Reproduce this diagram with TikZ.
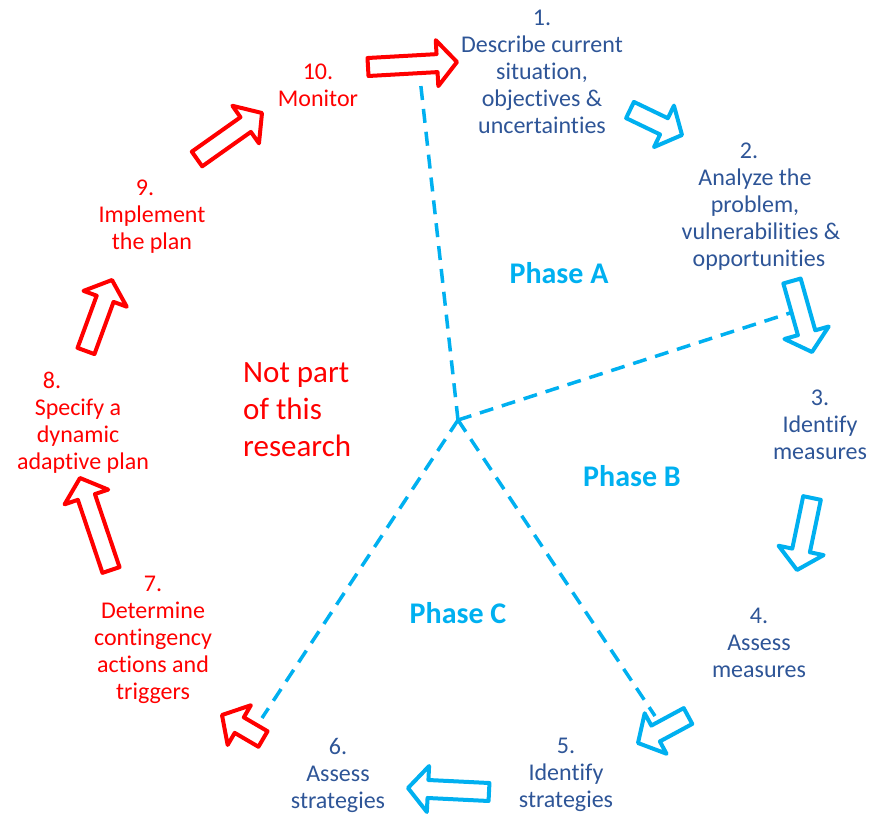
\documentclass[tikz,border=0pt]{standalone}
\usepackage{fontspec}
\setmainfont{Carlito}[Ligatures=NoCommon]
\usetikzlibrary{calc}
\definecolor{lblue}{HTML}{00B0F0}
\definecolor{dblue}{HTML}{2E5597}
\definecolor{cred}{HTML}{FF0000}

\tikzset{
  bluearrow/.style={draw=lblue, fill=white, line width=4pt, line join=round},
  redarrow/.style={draw=cred, fill=white, line width=4pt, line join=round},
  divider/.style={draw=lblue, line width=3.5pt, dash pattern=on 14pt off 9pt},
  steptext/.style={align=center, inner sep=0pt, font=\fontsize{24}{27}\selectfont},
  bluetext/.style={steptext, text=dblue},
  redtext/.style={steptext, text=cred},
  phase/.style={inner sep=0pt, text=lblue, font=\fontsize{30}{36}\selectfont\bfseries},
}

% block arrow: style, tail coordinate, tip coordinate
\newcommand\blockarrow[3]{%
  \coordinate (ba-b) at ($(#3)!20pt!(#2)$);
  \draw[#1] ($(#2)!9pt!90:(#3)$) -- ($(ba-b)!9pt!90:(#3)$)
    -- ($(ba-b)!23pt!90:(#3)$) -- (#3) -- ($(ba-b)!23pt!-90:(#3)$)
    -- ($(ba-b)!9pt!-90:(#3)$) -- ($(#2)!9pt!-90:(#3)$) -- cycle;
}

\begin{document}
\begin{tikzpicture}[x=1pt, y=-1pt]
\useasboundingbox (0,0) rectangle (870,817);

% hub and dividers between the phases
\coordinate (hub) at (458,420);
\coordinate (dtop) at (420,78);
\coordinate (dright) at (790,313);
\coordinate (dleft) at (262,718);
\coordinate (dlow) at (655,716);
\draw[divider] (hub) -- (dtop);
\draw[divider] (hub) -- (dright);
\draw[divider] (hub) -- (dleft);
\draw[divider] (hub) -- (dlow);

% arrow end points
\coordinate (a1t) at (368,67);  \coordinate (a1h) at (457,62);
\coordinate (a2t) at (630,110); \coordinate (a2h) at (682,135);
\coordinate (a3t) at (792,281); \coordinate (a3h) at (812,352);
\coordinate (a4t) at (812,498); \coordinate (a4h) at (797,570);
\coordinate (a5t) at (688,716); \coordinate (a5h) at (638,743);
\coordinate (a6t) at (489,792); \coordinate (a6h) at (408,788);
\coordinate (a7t) at (263,739); \coordinate (a7h) at (222,715);
\coordinate (a8t) at (111,570); \coordinate (a8h) at (80,478);
\coordinate (a9t) at (86,351);  \coordinate (a9h) at (112,280);
\coordinate (a10t) at (197,159); \coordinate (a10h) at (262,113);

\blockarrow{redarrow}{a1t}{a1h}
\blockarrow{bluearrow}{a2t}{a2h}
\blockarrow{bluearrow}{a3t}{a3h}
\blockarrow{bluearrow}{a4t}{a4h}
\blockarrow{bluearrow}{a5t}{a5h}
\blockarrow{bluearrow}{a6t}{a6h}
\blockarrow{redarrow}{a7t}{a7h}
\blockarrow{redarrow}{a8t}{a8h}
\blockarrow{redarrow}{a9t}{a9h}
\blockarrow{redarrow}{a10t}{a10h}

% steps
\node[bluetext] (s1) at (542,72) {1.\\Describe current\\situation,\\objectives \&\\uncertainties};
\node[bluetext] (s2) at (755,207) {2.\hspace*{12pt}\\Analyze the\hspace*{12pt}\\problem,\hspace*{12pt}\\\hspace*{12pt}vulnerabilities \&\\\hspace*{8pt}opportunities};
\node[bluetext] (s3) at (820,425) {3.\\Identify\\measures};
\node[bluetext] (s4) at (759,643) {4.\\Assess\\measures};
\node[bluetext] (s5) at (566,775) {5.\\Identify\\strategies};
\node[bluetext] (s6) at (338,775) {6.\\Assess\\strategies};
\node[redtext] (s7) at (153,640) {7.\\Determine\\contingency\\actions and\\triggers};
\node[redtext] (s8) at (78,423) {8.\hspace*{52pt}\\Specify a\hspace*{20pt}\\dynamic\hspace*{14pt}\\\hspace*{10pt}adaptive plan};
\node[redtext] (s9) at (152,217) {9.\hspace*{14pt}\\Implement\\the plan};
\node[redtext] (s10) at (318,85) {10.\\Monitor};

% phases
\node[phase] (pa) at (559,273) {Phase A};
\node[phase] (pb) at (632,476) {Phase B};
\node[phase] (pc) at (458,613) {Phase C};

\node[anchor=west, align=left, inner sep=0pt, text=cred,
      font=\fontsize{31}{37}\selectfont] (np) at (243,410) {Not part\\of this\\research};
\end{tikzpicture}
\end{document}
